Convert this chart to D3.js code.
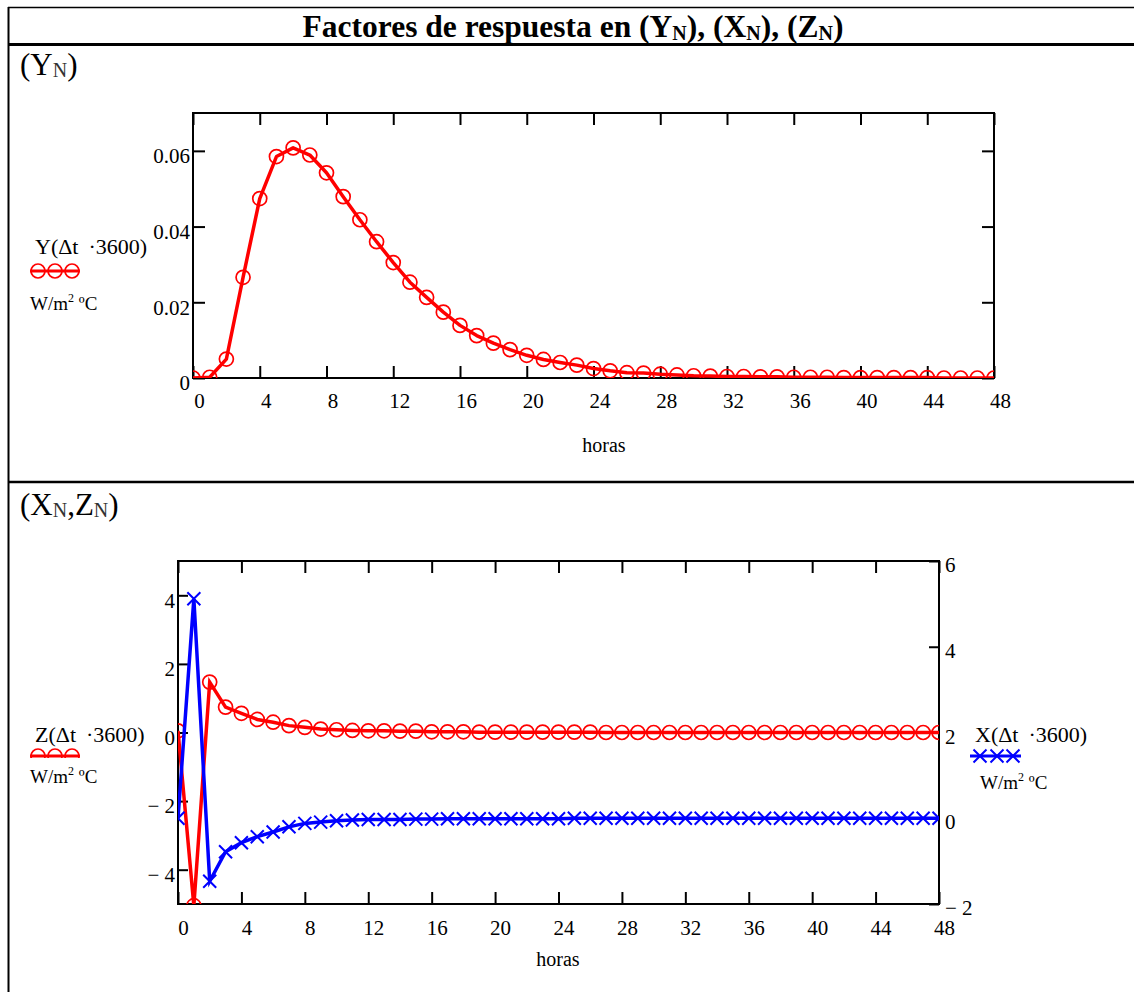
<!DOCTYPE html>
<html>
<head>
<meta charset="utf-8">
<script src="https://cdn.jsdelivr.net/npm/d3@7"></script>
<style>
body { margin:0; background:#fff; }
text { font-family: "Liberation Serif", "Times New Roman", serif; fill:#000; }
</style>
</head>
<body>
<script>
// hours 0..48
var hours = [0,1,2,3,4,5,6,7,8,9,10,11,12,13,14,15,16,17,18,19,20,21,22,23,24,
  25,26,27,28,29,30,31,32,33,34,35,36,37,38,39,40,41,42,43,44,45,46,47,48];

// Y(dt*3600)  W/m2 C
var yVals = [0,0.0002,0.005,0.0266,0.0474,0.0585,0.0608,0.0589,0.0542,0.0479,0.0418,0.036,
  0.0305,0.0253,0.0213,0.0174,0.0139,0.0112,0.0092,0.0075,0.006,0.0049,0.0041,0.0034,0.0025,
  0.0019,0.0014,0.0013,0.001,0.0008,0.0006,0.0005,0.0004,0.0004,0.0003,0.0003,0.0002,0.0002,
  0.0002,0.0001,0.0001,0.0001,0.0001,0.0001,0.0001,0,0,0,0];

// Z(dt*3600) left axis
var zVals = [0.05,-5.05,1.47,0.74,0.56,0.38,0.3,0.2,0.15,0.1,0.08,0.06,0.05,0.05,0.04,0.04,
  0.02,0.02,0.02,0.01,0.01,0.01,0.01,0.01,0.01,0.01,0.01,0,0,0,0,0,0,0,0,0,0,0,0,0,0,0,0,0,0,0,0,0,0];

// X(dt*3600) right axis
var xVals = [0,5.12,-1.47,-0.78,-0.57,-0.43,-0.32,-0.2,-0.12,-0.09,-0.06,-0.04,-0.03,-0.03,
  -0.03,-0.02,-0.02,-0.01,-0.01,-0.01,-0.01,-0.01,-0.01,-0.01,-0.01,0,0,0,0,0,0,0,0,0,0,0,0,0,
  0,0,0,0,0,0,0,0,0,0,0];

var xTicks = [0,4,8,12,16,20,24,28,32,36,40,44,48];
var yTicksTop = [0,0.02,0.04,0.06];
var yTickLabelsTop = ["0","0.02","0.04","0.06"];
var zTicks = [-4,-2,0,2,4];
var zTickLabels = ["\u2212 4","\u2212 2","0","2","4"];
var xrTicks = [-2,0,2,4,6];
var xrTickLabels = ["\u2212 2","0","2","4","6"];

var svg = d3.select("body").append("svg")
  .attr("width", 1134)
  .attr("height", 992);

// frame
svg.append("line").attr("x1",8).attr("x2",1134).attr("y1",7.5).attr("y2",7.5)
  .attr("stroke","#000").attr("stroke-width",1.5);
svg.append("line").attr("x1",8).attr("x2",1134).attr("y1",44.5).attr("y2",44.5)
  .attr("stroke","#000").attr("stroke-width",3);
svg.append("line").attr("x1",8).attr("x2",1134).attr("y1",482).attr("y2",482)
  .attr("stroke","#000").attr("stroke-width",2.5);
svg.append("line").attr("x1",8.5).attr("x2",8.5).attr("y1",7).attr("y2",992)
  .attr("stroke","#000").attr("stroke-width",2);

// title
var title = svg.append("text")
  .attr("x", 573).attr("y", 37)
  .attr("text-anchor","middle")
  .attr("font-size", 31.5)
  .attr("font-weight","bold");
title.append("tspan").text("Factores de respuesta en (Y");
title.append("tspan").attr("font-size",20).attr("dy",3).text("N");
title.append("tspan").attr("dy",-3).text("), (X");
title.append("tspan").attr("font-size",20).attr("dy",3).text("N");
title.append("tspan").attr("dy",-3).text("), (Z");
title.append("tspan").attr("font-size",20).attr("dy",3).text("N");
title.append("tspan").attr("dy",-3).text(")");

// section labels
var lab1 = svg.append("text").attr("x",20).attr("y",75).attr("font-size",31);
lab1.append("tspan").text("(Y");
lab1.append("tspan").attr("font-size",20).attr("dy",2).attr("fill","#333").text("N");
lab1.append("tspan").attr("dy",-2).text(")");

var lab2 = svg.append("text").attr("x",20).attr("y",515).attr("font-size",31);
lab2.append("tspan").text("(X");
lab2.append("tspan").attr("font-size",20).attr("dy",2).attr("fill","#333").text("N");
lab2.append("tspan").attr("dy",-2).text(",Z");
lab2.append("tspan").attr("font-size",20).attr("dy",2).attr("fill","#333").text("N");
lab2.append("tspan").attr("dy",-2).text(")");

function styleAxis(g) {
  g.select(".domain").remove();
  g.selectAll(".tick line").attr("stroke","#000").attr("stroke-width",2);
  g.selectAll("text").attr("font-size",21).attr("font-family",null).attr("fill","#000");
}

function unitText(x, y) {
  var t = svg.append("text").attr("x",x).attr("y",y).attr("font-size",19);
  t.append("tspan").text("W/m");
  t.append("tspan").attr("font-size",12).attr("dy",-8).text("2");
  t.append("tspan").attr("dy",8).text(" \u00baC");
}

// ---------------- top chart ----------------
var top1 = {left:193, right:994, top:113, bottom:378};

var xScale1 = d3.scaleLinear().domain([0,48]).range([top1.left, top1.right]);
var yScale1 = d3.scaleLinear().domain([0,0.07]).range([top1.bottom, top1.top]);

svg.append("g")
  .attr("transform", `translate(0, ${top1.bottom})`)
  .call(d3.axisBottom(xScale1).tickValues(xTicks).tickSize(-12).tickSizeOuter(0).tickPadding(15))
  .call(styleAxis)
  .selectAll("text").attr("dx", 6);

svg.append("g")
  .attr("transform", `translate(0, ${top1.top})`)
  .call(d3.axisTop(xScale1).tickValues(xTicks).tickSize(-12).tickSizeOuter(0).tickFormat(""))
  .call(styleAxis);

svg.append("g")
  .attr("transform", `translate(${top1.left}, 0)`)
  .call(d3.axisLeft(yScale1).tickValues(yTicksTop).tickSize(-12).tickSizeOuter(0).tickPadding(3)
    .tickFormat(function(d, i){ return yTickLabelsTop[i]; }))
  .call(styleAxis)
  .selectAll("text").attr("dy", "0.56em");

svg.append("g")
  .attr("transform", `translate(${top1.right}, 0)`)
  .call(d3.axisRight(yScale1).tickValues(yTicksTop).tickSize(-12).tickSizeOuter(0).tickFormat(""))
  .call(styleAxis);

svg.append("rect")
  .attr("x", top1.left).attr("y", top1.top)
  .attr("width", top1.right - top1.left).attr("height", top1.bottom - top1.top)
  .attr("fill","none").attr("stroke","#000").attr("stroke-width",2);

svg.append("clipPath").attr("id","clip1").append("rect")
  .attr("x", top1.left).attr("y", top1.top)
  .attr("width", top1.right - top1.left).attr("height", top1.bottom - top1.top);

var plot1 = svg.append("g").attr("clip-path","url(#clip1)");

var yLine = d3.line()
  .x(function(d, i){ return xScale1(hours[i]); })
  .y(function(d){ return yScale1(d); });

plot1.append("path").datum(yVals)
  .attr("d", yLine)
  .attr("fill","none").attr("stroke","#ff0000").attr("stroke-width",3.5)
  .attr("stroke-linejoin","round");

plot1.selectAll("circle").data(yVals).enter().append("circle")
  .attr("cx", function(d, i){ return xScale1(hours[i]); })
  .attr("cy", function(d){ return yScale1(d); })
  .attr("r", 7)
  .attr("fill","none").attr("stroke","#ff0000").attr("stroke-width",1.7);

svg.append("text").attr("x", 604).attr("y", 452).attr("text-anchor","middle")
  .attr("font-size",20).text("horas");

// legend top
svg.append("text").attr("x",35).attr("y",254).attr("font-size",22)
  .text("Y(\u0394t \u2009\u00b73600)");
svg.append("line").attr("x1",30).attr("x2",80).attr("y1",271).attr("y2",271)
  .attr("stroke","#ff0000").attr("stroke-width",3);
svg.selectAll(".legc1").data([38,55,72]).enter().append("circle")
  .attr("cx", function(d){ return d; }).attr("cy",271).attr("r",7)
  .attr("fill","none").attr("stroke","#ff0000").attr("stroke-width",1.7);
unitText(30, 310);

// ---------------- bottom chart ----------------
var bot = {left:178, right:939, top:561, bottom:904};

var xScale2 = d3.scaleLinear().domain([0,48]).range([bot.left, bot.right]);
var zScale = d3.scaleLinear().domain([-5,5]).range([bot.bottom, bot.top]);
var xrScale = d3.scaleLinear().domain([-2,6]).range([bot.bottom, bot.top]);

svg.append("g")
  .attr("transform", `translate(0, ${bot.bottom})`)
  .call(d3.axisBottom(xScale2).tickValues(xTicks).tickSize(-12).tickSizeOuter(0).tickPadding(16))
  .call(styleAxis)
  .selectAll("text").attr("dx", 5);

svg.append("g")
  .attr("transform", `translate(0, ${bot.top})`)
  .call(d3.axisTop(xScale2).tickValues(xTicks).tickSize(-12).tickSizeOuter(0).tickFormat(""))
  .call(styleAxis);

svg.append("g")
  .attr("transform", `translate(${bot.left}, 0)`)
  .call(d3.axisLeft(zScale).tickValues(zTicks).tickSize(-10).tickSizeOuter(0).tickPadding(3)
    .tickFormat(function(d, i){ return zTickLabels[i]; }))
  .call(styleAxis)
  .selectAll("text").attr("dy", "0.56em");

svg.append("g")
  .attr("transform", `translate(${bot.right}, 0)`)
  .call(d3.axisRight(xrScale).tickValues(xrTicks).tickSize(-10).tickSizeOuter(0).tickPadding(6)
    .tickFormat(function(d, i){ return xrTickLabels[i]; }))
  .call(styleAxis)
  .selectAll("text").attr("dy", "0.5em");

svg.append("rect")
  .attr("x", bot.left).attr("y", bot.top)
  .attr("width", bot.right - bot.left).attr("height", bot.bottom - bot.top)
  .attr("fill","none").attr("stroke","#000").attr("stroke-width",2);

svg.append("clipPath").attr("id","clip2").append("rect")
  .attr("x", bot.left).attr("y", bot.top)
  .attr("width", bot.right - bot.left).attr("height", bot.bottom - bot.top);

var plot2 = svg.append("g").attr("clip-path","url(#clip2)");

var zLine = d3.line()
  .x(function(d, i){ return xScale2(hours[i]); })
  .y(function(d){ return zScale(d); });
var xLine = d3.line()
  .x(function(d, i){ return xScale2(hours[i]); })
  .y(function(d){ return xrScale(d); });

plot2.append("path").datum(zVals)
  .attr("d", zLine)
  .attr("fill","none").attr("stroke","#ff0000").attr("stroke-width",3.5)
  .attr("stroke-linejoin","miter");

plot2.selectAll(".zc").data(zVals).enter().append("circle")
  .attr("cx", function(d, i){ return xScale2(hours[i]); })
  .attr("cy", function(d){ return zScale(d); })
  .attr("r", 7)
  .attr("fill","none").attr("stroke","#ff0000").attr("stroke-width",1.7);

plot2.append("path").datum(xVals)
  .attr("d", xLine)
  .attr("fill","none").attr("stroke","#0000ff").attr("stroke-width",3.5)
  .attr("stroke-linejoin","miter");

plot2.selectAll(".xc").data(xVals).enter().append("path")
  .attr("transform", function(d, i){ return `translate(${xScale2(hours[i])}, ${xrScale(d)})`; })
  .attr("d", "M-6.5,-6.5L6.5,6.5M-6.5,6.5L6.5,-6.5")
  .attr("fill","none").attr("stroke","#0000ff").attr("stroke-width",2);

svg.append("text").attr("x", 558).attr("y", 966).attr("text-anchor","middle")
  .attr("font-size",20).text("horas");

// legend Z
svg.append("text").attr("x",35).attr("y",742).attr("font-size",22)
  .text("Z(\u0394t \u2009\u00b73600)");
svg.append("clipPath").attr("id","clipZ").append("rect")
  .attr("x",20).attr("y",745).attr("width",70).attr("height",13);
var legZ = svg.append("g").attr("clip-path","url(#clipZ)");
legZ.append("line").attr("x1",30).attr("x2",80).attr("y1",756).attr("y2",756)
  .attr("stroke","#ff0000").attr("stroke-width",3);
legZ.selectAll("circle").data([38,55,72]).enter().append("circle")
  .attr("cx", function(d){ return d; }).attr("cy",756).attr("r",7)
  .attr("fill","none").attr("stroke","#ff0000").attr("stroke-width",1.7);
unitText(30, 783);

// legend X
svg.append("text").attr("x",975).attr("y",742).attr("font-size",22)
  .text("X(\u0394t \u2009\u00b73600)");
svg.append("line").attr("x1",970).attr("x2",1021).attr("y1",756).attr("y2",756)
  .attr("stroke","#0000ff").attr("stroke-width",3);
svg.selectAll(".legx").data([980,997,1013]).enter().append("path")
  .attr("transform", function(d){ return `translate(${d}, 756)`; })
  .attr("d", "M-6.5,-6.5L6.5,6.5M-6.5,6.5L6.5,-6.5")
  .attr("fill","none").attr("stroke","#0000ff").attr("stroke-width",2);
unitText(980, 789);
</script>
</body>
</html>
